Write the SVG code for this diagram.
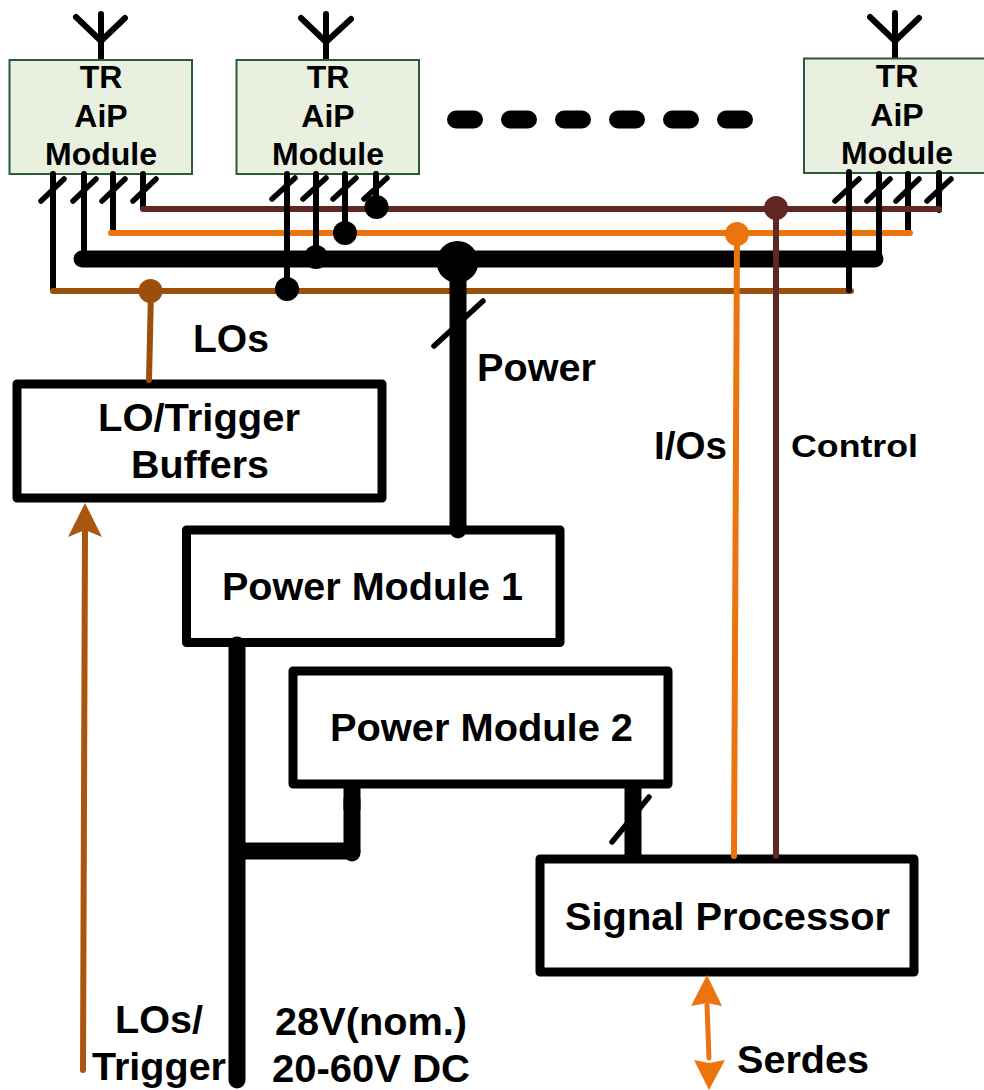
<svg xmlns="http://www.w3.org/2000/svg" width="984" height="1090" viewBox="0 0 984 1090">
<style>
text{font-family:"Liberation Sans",Arial,sans-serif;font-weight:700;fill:#000;text-anchor:middle}
.m{font-size:32px}
.b{font-size:38px}
.mod{fill:#E9F0DF;stroke:#2B5A3A;stroke-width:2}
.box{fill:#fff;stroke:#000;stroke-width:9;stroke-linejoin:round}
.k,.ant,.sl,.dash{fill:none;stroke:#000;stroke-linecap:round;stroke-linejoin:round}
.ant{stroke-width:6}
.sl{stroke-width:5.5}
.dash{stroke-width:18}
.lo,.io,.ct{fill:none;stroke-linecap:round}
.lo{stroke:#9C4F0C}
.io{stroke:#EC730D}
.ct{stroke:#612823}
.butt{fill:none;stroke:#000;stroke-width:17;stroke-linecap:butt}
</style>
<g id="antenna-1"><path class="ant" d="M101 60V14M76 17L101 41L125 18"/></g>
<g id="antenna-2"><path class="ant" d="M326 60V14M301 18L326 42L351 19"/></g>
<g id="antenna-3"><path class="ant" d="M895 59V13M870 17L895 41L919 18"/></g>
<g id="dots"><path class="dash" d="M456 119.500H474M510 119.500H528M564 119.500H582M618 119.500H636M672 119.500H690M726 119.500H744"/></g>
<g id="module-1"><rect class="mod" x="9.500" y="60" width="182.500" height="114"/><text class="m" x="101" y="88">TR</text><text class="m" x="101" y="127">AiP</text><text class="m" x="101" y="165" textLength="112" lengthAdjust="spacingAndGlyphs">Module</text></g>
<g id="module-2"><rect class="mod" x="236.500" y="60" width="182.500" height="114"/><text class="m" x="328" y="88">TR</text><text class="m" x="328" y="127">AiP</text><text class="m" x="328" y="165" textLength="112" lengthAdjust="spacingAndGlyphs">Module</text></g>
<g id="module-3"><rect class="mod" x="804" y="58.500" width="182" height="114.500"/><text class="m" x="897" y="87">TR</text><text class="m" x="897" y="126">AiP</text><text class="m" x="897" y="164" textLength="112" lengthAdjust="spacingAndGlyphs">Module</text></g>
<g id="lo-buffers"><rect class="box" x="17" y="384" width="365" height="114"/><text class="b" x="199" y="431" textLength="202" lengthAdjust="spacingAndGlyphs">LO/Trigger</text><text class="b" x="200" y="478" textLength="138" lengthAdjust="spacingAndGlyphs">Buffers</text></g>
<g id="power-module-1"><rect class="box" x="186.500" y="530" width="373.500" height="112.500"/><text class="b" x="372.500" y="599.500" textLength="301" lengthAdjust="spacingAndGlyphs">Power Module 1</text></g>
<g id="power-module-2"><rect class="box" x="293" y="671" width="375" height="113"/><text class="b" x="481.500" y="740.500" textLength="303" lengthAdjust="spacingAndGlyphs">Power Module 2</text></g>
<g id="signal-processor"><rect class="box" x="540" y="859" width="374" height="113"/><text class="b" x="727.500" y="929.500" textLength="325" lengthAdjust="spacingAndGlyphs">Signal Processor</text></g>
<g id="connectors">
<path class="k" stroke-width="17" d="M82 259H875"/>
<path class="k" stroke-width="6" d="M53 174V290M84 174V259M113 174V232M143 174V208"/>
<path class="k" stroke-width="6" d="M908 174V233M939 173V210"/>
<path class="ct" stroke-width="6" d="M143 209H939"/>
<path class="io" stroke-width="6" d="M111 233H910"/>
<path class="lo" stroke-width="6" d="M53 291H851"/>
<path class="k" stroke-width="6" d="M287 174V289M316 174V257M345 174V232M376 174V207M849 172V290M879 174V258"/>
<path class="lo" stroke-width="6" d="M151 291L149 380"/>
<path class="io" stroke-width="6" d="M737 234L734 856"/>
<path class="ct" stroke-width="6" d="M776 208V856"/>
<path class="k" stroke-width="17" d="M458 262V530"/>
<path class="k" stroke-width="17" d="M237 645V1080"/>
<path class="k" stroke-width="17" d="M240 851H352"/>
<path class="k" stroke-width="17" d="M352 800V853"/>
<path class="butt" d="M352 786V810"/>
<path class="butt" d="M633 786V856"/>
<path class="lo" stroke-width="6" style="stroke:#A9560F" d="M83 1070L85 530"/>
<path d="M85 503L102 537L85 530L68 537Z" fill="#A9560F"/>
<path class="io" stroke-width="5" d="M707 1005L709 1058"/>
<path d="M707 975L722 1006L707 1003L691 1006Z" fill="#EC730D"/>
<path d="M709 1090L694 1060L709 1063L725 1060Z" fill="#EC730D"/>
<circle cx="150.500" cy="291" r="12" fill="#9C4F0C"/>
<circle cx="287" cy="289" r="12" fill="#000"/>
<circle cx="316" cy="257" r="12" fill="#000"/>
<circle cx="345" cy="233" r="12" fill="#000"/>
<circle cx="376.500" cy="207" r="12" fill="#000"/>
<circle cx="457.500" cy="262" r="21" fill="#000"/>
<circle cx="737" cy="234" r="12" fill="#EC730D"/>
<circle cx="776" cy="208" r="12" fill="#612823"/>
<path class="sl" d="M41 201L64 179M73 201L96 179M102 201L125 179M133 201L156 179"/>
<path class="sl" d="M272 199L295 178M303 199L326 178M333 199L356 178M364 199L387 178"/>
<path class="sl" d="M835 201L859 179M867 201L890 179M896 201L919 179M927 201L951 179"/>
<path class="sl" d="M434 346L483 301"/>
<path class="sl" d="M612 842L649 797"/>
</g>
<g id="labels">
<text class="b" x="231" y="352" textLength="76" lengthAdjust="spacingAndGlyphs">LOs</text>
<text class="b" x="536.500" y="381" textLength="119" lengthAdjust="spacingAndGlyphs">Power</text>
<text class="b" x="690.500" y="459" textLength="73" lengthAdjust="spacingAndGlyphs">I/Os</text>
<text class="m" x="854.500" y="457" textLength="127" lengthAdjust="spacingAndGlyphs">Control</text>
<text class="b" x="159" y="1033" textLength="88" lengthAdjust="spacingAndGlyphs">LOs/</text>
<text class="b" x="159" y="1080" textLength="134" lengthAdjust="spacingAndGlyphs">Trigger</text>
<text class="b" x="371" y="1035" textLength="192" lengthAdjust="spacingAndGlyphs">28V(nom.)</text>
<text class="b" x="371" y="1082" textLength="198" lengthAdjust="spacingAndGlyphs">20-60V DC</text>
<text class="b" x="803" y="1073" textLength="132" lengthAdjust="spacingAndGlyphs">Serdes</text>
</g>
</svg>
